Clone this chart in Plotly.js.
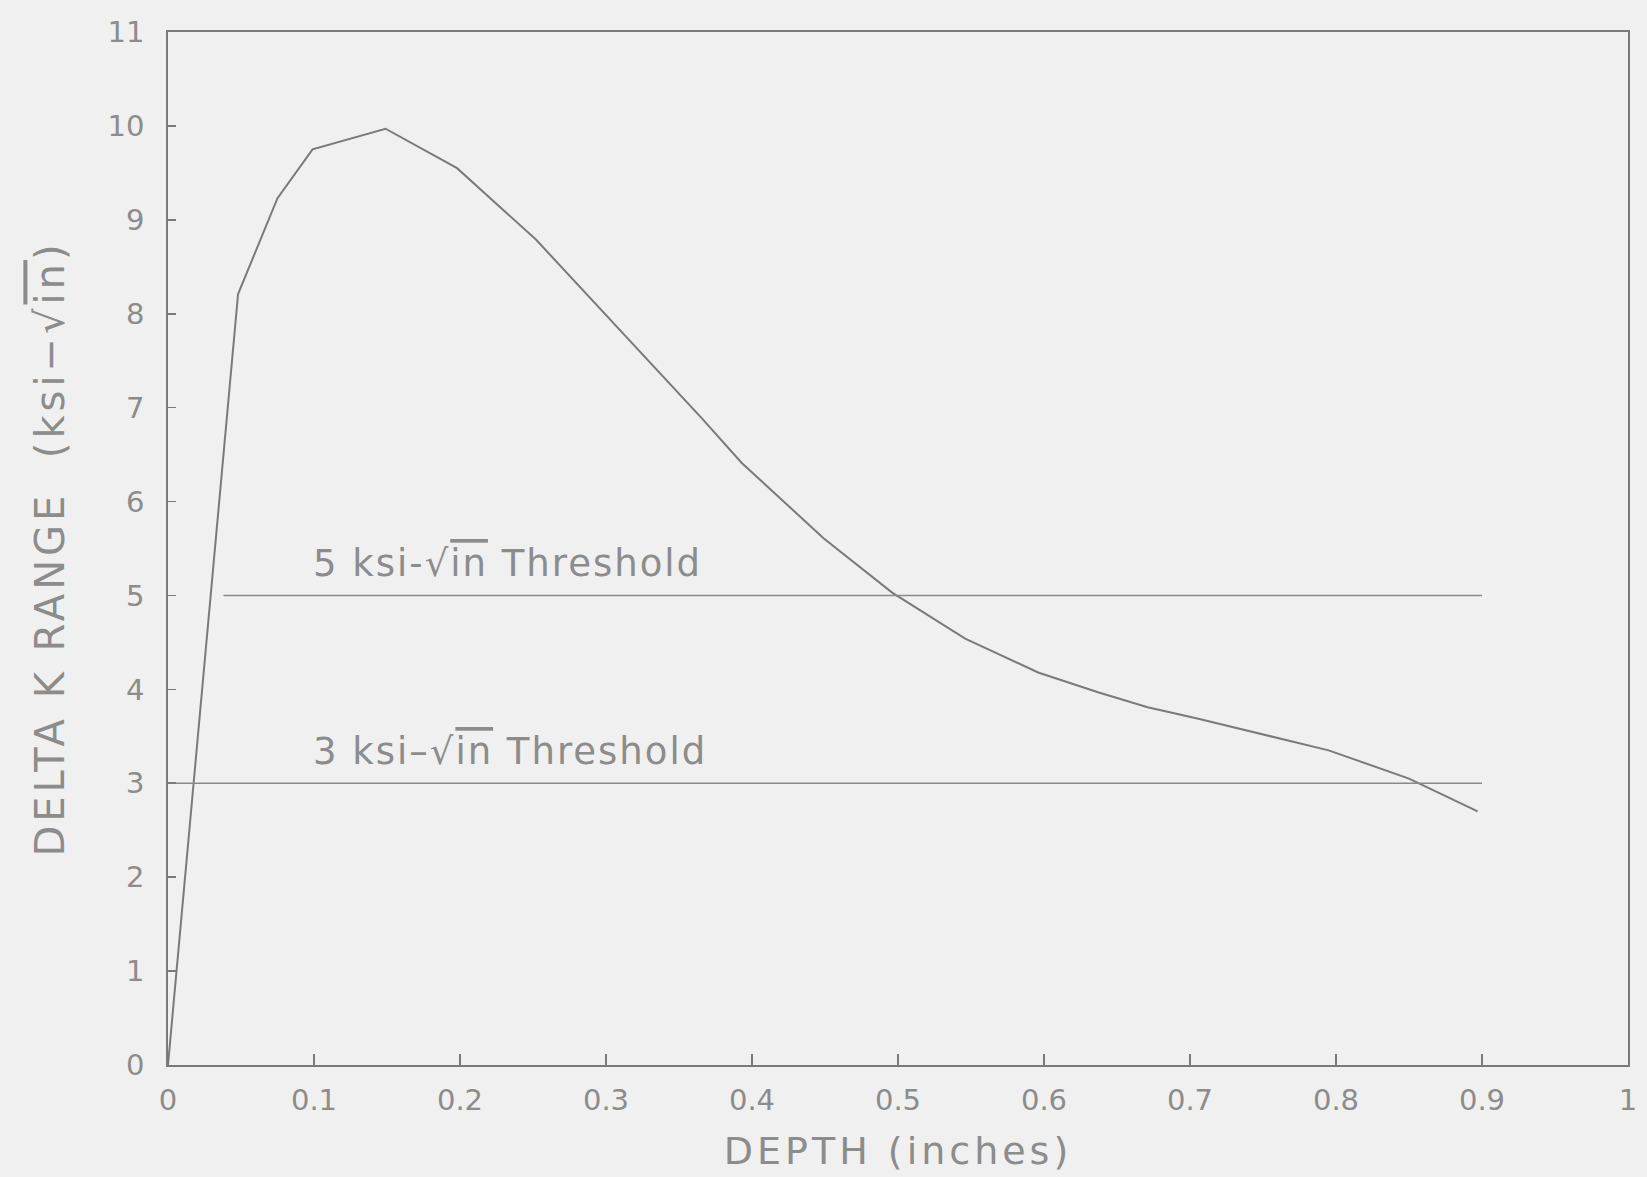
<!DOCTYPE html>
<html>
<head>
<meta charset="utf-8">
<script src="https://cdn.plot.ly/plotly-3.0.1.min.js"></script>
<style>
html,body{margin:0;padding:0;background:#f0f0f0;}
.xtitle{letter-spacing:4px;}
.ytitle{letter-spacing:4px;}
.annotation-text{letter-spacing:2px;}
</style>
</head>
<body>
<div id="chart" style="width:1647px;height:1177px;"></div>
<script>
// Delta K range vs crack depth
const depth = [0, 0.048, 0.075, 0.099, 0.149, 0.198, 0.252, 0.319, 0.366, 0.393, 0.449, 0.496, 0.546, 0.596, 0.637, 0.671, 0.705, 0.795, 0.850, 0.897];
const deltaK = [0, 8.21, 9.23, 9.75, 9.97, 9.55, 8.79, 7.67, 6.88, 6.41, 5.61, 5.03, 4.54, 4.18, 3.97, 3.81, 3.69, 3.35, 3.05, 2.70];

// Threshold lines
const thr5X = [0.038, 0.9];
const thr5Y = [5, 5];
const thr3X = [0, 0.9];
const thr3Y = [3, 3];

const xTicks = [0, 0.1, 0.2, 0.3, 0.4, 0.5, 0.6, 0.7, 0.8, 0.9, 1];
const xTickText = ["0", "0.1", "0.2", "0.3", "0.4", "0.5", "0.6", "0.7", "0.8", "0.9", "1"];
const yTicks = [0, 1, 2, 3, 4, 5, 6, 7, 8, 9, 10, 11];

const labels = [
  {x: 0.098, y: 5, text: '5 ksi-√<span style="text-decoration:overline">in</span> Threshold'},
  {x: 0.098, y: 3, text: '3 ksi–√<span style="text-decoration:overline">in</span> Threshold'}
];

const lineCol = '#7a7a7a';
const textCol = '#8c8c8c';
const fontFam = 'DejaVu Sans, Liberation Sans, sans-serif';

const traces = [
  {x: depth, y: deltaK, mode: 'lines', line: {color: lineCol, width: 2}, showlegend: false, hoverinfo: 'x+y'},
  {x: thr5X, y: thr5Y, mode: 'lines', line: {color: '#8a8a8a', width: 1.6}, showlegend: false},
  {x: thr3X, y: thr3Y, mode: 'lines', line: {color: '#8a8a8a', width: 1.6}, showlegend: false}
];

const layout = {
  width: 1647, height: 1177,
  paper_bgcolor: '#f0f0f0', plot_bgcolor: '#f0f0f0',
  margin: {l: 168, r: 19, t: 32, b: 112},
  font: {family: fontFam, color: textCol, size: 28},
  xaxis: {
    range: [0, 1], tickvals: xTicks, ticktext: xTickText,
    ticks: 'inside', ticklen: 11, tickwidth: 1.6, tickcolor: lineCol,
    showline: true, linecolor: lineCol, linewidth: 1.8, mirror: true,
    showgrid: false, zeroline: false,
    tickfont: {size: 29, color: textCol},
    ticklabelstandoff: 8,
    title: {text: 'DEPTH (inches)', font: {size: 38, color: textCol}, standoff: 22}
  },
  yaxis: {
    range: [0, 11], tickvals: yTicks,
    ticks: 'inside', ticklen: 8, tickwidth: 1.6, tickcolor: lineCol,
    showline: true, linecolor: lineCol, linewidth: 1.8, mirror: true,
    showgrid: false, zeroline: false,
    tickfont: {size: 29, color: textCol},
    ticklabelstandoff: 16,
    title: {text: 'DELTA K RANGE  (ksi−√<span style="text-decoration:overline">in</span>)', font: {size: 40, color: textCol}, standoff: 30}
  },
  annotations: labels.map(l => ({
    x: l.x, y: l.y, xref: 'x', yref: 'y', text: l.text, showarrow: false,
    xanchor: 'left', yanchor: 'bottom', yshift: 8,
    font: {size: 37, color: textCol, family: fontFam}
  }))
};

Plotly.newPlot('chart', traces, layout, {displayModeBar: false, staticPlot: true});
</script>
</body>
</html>
